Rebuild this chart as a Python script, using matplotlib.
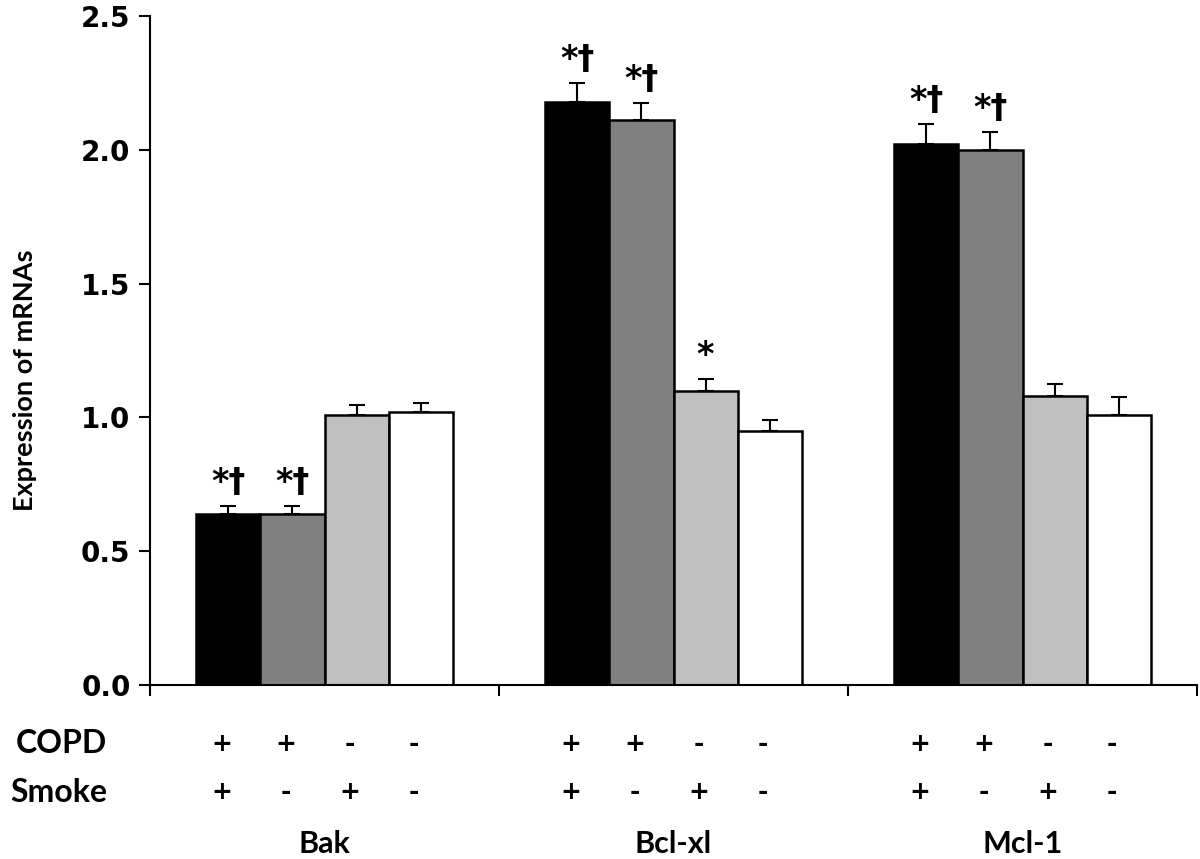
import matplotlib
matplotlib.use("Agg")
import matplotlib.pyplot as plt
import numpy as np

genes = ["Bak", "Bcl-xl", "Mcl-1"]
conditions = ["COPD+ Smoke+", "COPD+ Smoke-", "COPD- Smoke+", "COPD- Smoke-"]
colors = ["#000000", "#808080", "#c0c0c0", "#ffffff"]
values = {
    "COPD+ Smoke+": [0.64, 2.18, 2.02],
    "COPD+ Smoke-": [0.64, 2.11, 2.00],
    "COPD- Smoke+": [1.01, 1.10, 1.08],
    "COPD- Smoke-": [1.02, 0.95, 1.01],
}
errors = {
    "COPD+ Smoke+": [0.03, 0.07, 0.075],
    "COPD+ Smoke-": [0.03, 0.065, 0.065],
    "COPD- Smoke+": [0.035, 0.045, 0.045],
    "COPD- Smoke-": [0.035, 0.04, 0.065],
}
marks = {
    "COPD+ Smoke+": ["*†", "*†", "*†"],
    "COPD+ Smoke-": ["*†", "*†", "*†"],
    "COPD- Smoke+": ["", "*", ""],
    "COPD- Smoke-": ["", "", ""],
}
copd_signs = ["+", "+", "-", "-"]
smoke_signs = ["+", "-", "+", "-"]
yticks = [0.0, 0.5, 1.0, 1.5, 2.0, 2.5]

fig = plt.figure(figsize=(12, 8.59), dpi=100)
ax = fig.add_axes([0.125, 0.2026, 0.8725, 0.7788])

width = 0.1837
centers = np.arange(len(genes)) + 0.5
for i, cond in enumerate(conditions):
    xs = centers + (i - 1.5) * width
    ax.bar(xs, values[cond], width=width, color=colors[i], edgecolor="black",
           linewidth=1.8, zorder=2)
    ax.errorbar(xs, values[cond], yerr=[np.zeros(len(genes)), errors[cond]],
                fmt="none", ecolor="black", elinewidth=1.5, capsize=5.5,
                capthick=1.5, zorder=3)
    for x, v, e, m in zip(xs, values[cond], errors[cond], marks[cond]):
        if m:
            ax.annotate(m, (x, v + e), xytext=(0, 5), textcoords="offset points",
                        ha="center", va="bottom", fontsize=24, fontweight="bold",
                        family="DejaVu Sans")
    for x in xs:
        ax.text(x - 0.02, -0.22, copd_signs[i], ha="center", va="center",
                fontsize=18, fontweight="bold", family="DejaVu Sans")
        ax.text(x - 0.02, -0.40, smoke_signs[i], ha="center", va="center",
                fontsize=18, fontweight="bold", family="DejaVu Sans")

for c, g in zip(centers, genes):
    ax.text(c, -0.595, g, ha="center", va="center", fontsize=22, family="Lato",
            fontweight="bold")

ax.text(-0.255, -0.22, "COPD", ha="center", va="center", fontsize=23,
        family="Lato", fontweight="bold")
ax.text(-0.26, -0.40, "Smoke", ha="center", va="center", fontsize=23,
        family="Lato", fontweight="bold")

ax.set_xlim(0, 3)
ax.set_ylim(0, 2.5)
ax.set_yticks(yticks)
ax.set_yticklabels([f"{t:.1f}" for t in yticks], fontsize=20, fontweight="bold",
                   family="DejaVu Sans")
ax.set_xticks([0, 1, 2, 3])
ax.set_xticklabels([])
ax.tick_params(axis="y", direction="out", length=8, width=1.5, pad=6)
ax.tick_params(axis="x", direction="out", length=8, width=1.5)
ax.spines["top"].set_visible(False)
ax.spines["right"].set_visible(False)
ax.spines["left"].set_linewidth(1.5)
ax.spines["bottom"].set_linewidth(1.5)
ax.set_ylabel("Expression of mRNAs", fontsize=19.5, family="Lato",
              fontweight="bold")
ax.yaxis.set_label_coords(-0.108, 0.455)

fig.savefig("out.png", dpi=100)
